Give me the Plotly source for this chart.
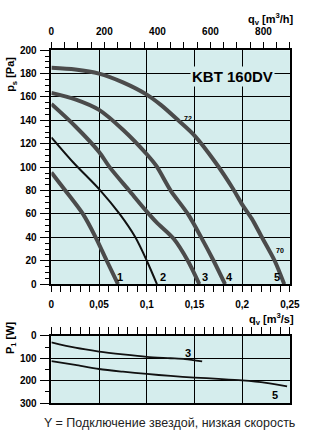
import plotly.graph_objects as go

# ---------------- data ----------------
# fan curves: q_v [m3/s] vs p_s [Pa]
q1 = [0, 0.0146, 0.033, 0.0464, 0.058, 0.0698]
p1 = [95.5, 80, 60, 40, 20, 0]
q2 = [0, 0.023, 0.0514, 0.0715, 0.088, 0.1, 0.1106]
p2 = [125.5, 104, 80, 60, 40, 20, 0]
q3 = [0, 0.025, 0.05, 0.061, 0.0815, 0.1, 0.11, 0.128, 0.143, 0.155]
p3 = [154, 135, 113, 100, 80, 62, 53, 39, 20, 0]
q4 = [0, 0.025, 0.05, 0.075, 0.1, 0.11, 0.125, 0.143, 0.157, 0.17, 0.182]
p4 = [163.5, 158, 149, 132, 111, 101, 80, 60, 40, 20, 0]
q5 = [0, 0.025, 0.05, 0.075, 0.1, 0.115, 0.133, 0.15, 0.172, 0.19, 0.2, 0.21, 0.22, 0.234, 0.244]
p5 = [185, 183.5, 180, 172.5, 162, 153, 140, 127, 104, 82, 68, 56, 41, 20, 0]

# power curves: q_v [m3/s] vs P1 [W]
qw3 = [0, 0.025, 0.05, 0.075, 0.1, 0.125, 0.14, 0.158]
pw3 = [29, 53, 70, 83, 94, 100, 104, 114]
qw5 = [0, 0.025, 0.05, 0.075, 0.1, 0.125, 0.15, 0.175, 0.2, 0.225, 0.247]
pw5 = [113, 130, 148, 160, 170, 179, 186, 192, 199, 210, 225]

# tick labels
q_ticks = [0, 0.05, 0.1, 0.15, 0.2, 0.25]
q_ticktext = ["0", "0,05", "0,1", "0,15", "0,2", "0,25"]
qh_ticks = [0, 200, 400, 600, 800]
p_ticks = [0, 20, 40, 60, 80, 100, 120, 140, 160, 180, 200]
w_ticks = [0, 100, 200, 300]

# ---------------- styling ----------------
W, H = 310, 439
BG = "#d5eded"
CURVE = "#4b4b4b"
FONT = "Liberation Sans"

def px_x(px):
    return px / W

def px_y(py):
    return 1 - py / H

xdom = [px_x(50.5), px_x(299.5)]
ydom_top = [px_y(285.3), px_y(45.3)]
ydom_bot = [px_y(407.3), px_y(338.3)]

tickfont = dict(family=FONT, size=10, color="black", weight="bold")

fig = go.Figure()

def add_curve(x, y, color, width, xa="x", ya="y"):
    fig.add_trace(go.Scatter(x=x, y=y, mode="lines", xaxis=xa, yaxis=ya,
                             line=dict(color=color, width=width, shape="spline", smoothing=0.8),
                             hoverinfo="skip", showlegend=False))

add_curve(q1, p1, CURVE, 4)
add_curve(q2, p2, "#111111", 2)
add_curve(q3, p3, CURVE, 4)
add_curve(q4, p4, CURVE, 4)
add_curve(q5, p5, CURVE, 4)
add_curve(qw3, pw3, "#111111", 1.8, "x3", "y3")
add_curve(qw5, pw5, "#111111", 1.8, "x3", "y3")
# the same curve 5 expressed in m3/h, drawn transparent, so the m3/h axis is rendered
fig.add_trace(go.Scatter(x=[q * 3600 for q in q5], y=p5, mode="lines", xaxis="x2", yaxis="y",
                         line=dict(color="rgba(0,0,0,0)", width=0), hoverinfo="skip", showlegend=False))

axis_common = dict(showline=True, linecolor="black", linewidth=1.5, mirror=True,
                   showgrid=True, gridcolor="black", gridwidth=1, zeroline=False,
                   ticks="outside", tickcolor="black", tickwidth=1, tickfont=tickfont,
                   fixedrange=True)

fig.update_layout(
    width=W, height=H, margin=dict(l=0, r=0, t=0, b=0),
    paper_bgcolor="white", plot_bgcolor=BG, showlegend=False,
    xaxis=dict(domain=xdom, anchor="y", range=[0, 0.25], tickvals=q_ticks, ticktext=q_ticktext,
               ticklen=6, ticklabelstandoff=4,
               minor=dict(dtick=0.01, tick0=0, ticks="outside", ticklen=6, tickcolor="black", showgrid=False),
               **axis_common),
    xaxis2=dict(overlaying="x", anchor="y", side="top", range=[0, 900], tickvals=qh_ticks,
                ticks="outside", ticklen=7, tickcolor="black", tickfont=tickfont, showgrid=False,
                showline=False, zeroline=False, ticklabelstandoff=3, fixedrange=True,
                minor=dict(dtick=50, tick0=0, ticks="outside", ticklen=7, tickcolor="black", showgrid=False)),
    yaxis=dict(domain=ydom_top, anchor="x", range=[0, 200], tickvals=p_ticks, ticklen=10,
               ticklabelstandoff=1,
               minor=dict(dtick=5, tick0=0, ticks="outside", ticklen=5, tickcolor="black", showgrid=False),
               **axis_common),
    xaxis3=dict(domain=xdom, anchor="y3", side="top", range=[0, 0.25], dtick=0.05, tick0=0,
                showticklabels=False, ticklen=7,
                minor=dict(dtick=0.01, tick0=0, ticks="outside", ticklen=7, tickcolor="black", showgrid=False),
                **axis_common),
    yaxis3=dict(domain=ydom_bot, anchor="x3", range=[300, 0], tickvals=w_ticks, ticklen=10,
                ticklabelstandoff=1,
                minor=dict(dtick=50, tick0=0, ticks="outside", ticklen=5, tickcolor="black", showgrid=False),
                **axis_common),
)

ann = []
lbl_font = dict(family=FONT, size=11, color="black", weight="bold")
small_font = dict(family=FONT, size=7, color="black", weight="bold")
for txt, xv in [("1", 0.0723), ("2", 0.117), ("3", 0.161), ("4", 0.187), ("5", 0.2364)]:
    ann.append(dict(text=txt, x=xv, y=6, xref="x", yref="y", showarrow=False, font=lbl_font))
ann.append(dict(text="72", x=0.1436, y=142, xref="x", yref="y", showarrow=False, font=small_font))
ann.append(dict(text="70", x=0.240, y=29, xref="x", yref="y", showarrow=False, font=small_font))
ann.append(dict(text="KBT 160DV", x=0.19, y=177.5, xref="x", yref="y", showarrow=False,
                bgcolor=BG, borderpad=1,
                font=dict(family=FONT, size=15, color="black", weight="bold")))
ann.append(dict(text="3", x=0.143, y=77, xref="x3", yref="y3", showarrow=False, font=lbl_font))
ann.append(dict(text="5", x=0.234, y=264, xref="x3", yref="y3", showarrow=False, font=lbl_font))

title_font = dict(family=FONT, size=11, color="black", weight="bold")
ann.append(dict(text="q<sub>v</sub> [m<sup>3</sup>/h]", x=px_x(306), y=px_y(13), xref="paper", yref="paper",
                xanchor="right", yanchor="middle", showarrow=False, font=title_font))
ann.append(dict(text="q<sub>v</sub> [m<sup>3</sup>/s]", x=px_x(306), y=px_y(321), xref="paper", yref="paper",
                xanchor="right", yanchor="middle", showarrow=False, font=title_font))
ann.append(dict(text="p<sub>s</sub> [Pa]", x=px_x(9), y=px_y(70), xref="paper", yref="paper",
                xanchor="center", yanchor="middle", textangle=-90, showarrow=False, font=title_font))
ann.append(dict(text="P<sub>1</sub> [W]", x=px_x(9), y=px_y(340), xref="paper", yref="paper",
                xanchor="center", yanchor="middle", textangle=-90, showarrow=False, font=title_font))
ann.append(dict(text="Y = Подключение звездой, низкая скорость", x=px_x(307), y=px_y(428),
                xref="paper", yref="paper", xanchor="right", yanchor="middle", showarrow=False,
                font=dict(family=FONT, size=12.5, color="#222222")))
fig.update_layout(annotations=ann)

fig.write_html("out.html")
